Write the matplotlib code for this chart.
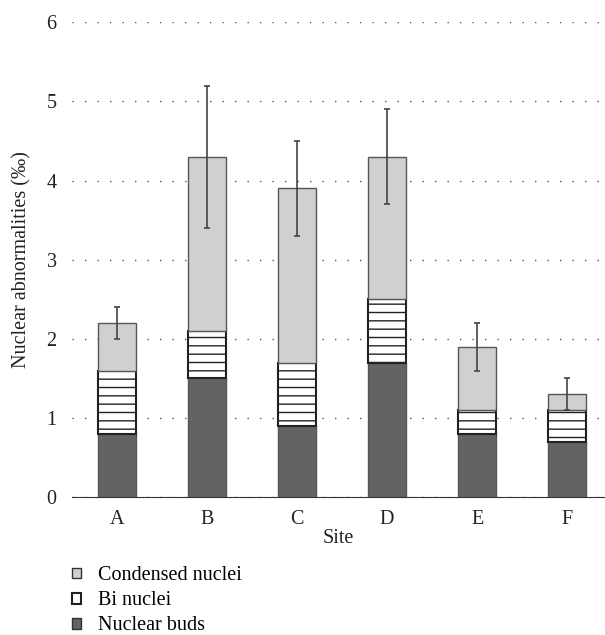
import matplotlib.pyplot as plt
from matplotlib.patches import Patch

sites = ["A", "B", "C", "D", "E", "F"]
buds = [0.8, 1.5, 0.9, 1.7, 0.8, 0.7]
bi = [0.8, 0.6, 0.8, 0.8, 0.3, 0.4]
condensed = [0.6, 2.2, 2.2, 1.8, 0.8, 0.2]
err = [0.2, 0.9, 0.6, 0.6, 0.3, 0.2]

plt.rcParams["font.family"] = ["Liberation Serif", "DejaVu Serif"]
plt.rcParams["hatch.linewidth"] = 1.0

fig = plt.figure(figsize=(6.05, 6.35), dpi=100)
ax = fig.add_axes([0.119, 0.217, 0.881, 0.748])

x = list(range(len(sites)))
w = 0.42
bottom_bi = buds
bottom_cond = [b + c for b, c in zip(buds, bi)]
totals = [b + c for b, c in zip(bottom_cond, condensed)]

ax.bar(x, buds, w, color="#636363", edgecolor="#555555", lw=1, zorder=3)
ax.bar(x, bi, w, bottom=bottom_bi, color="white", edgecolor="#222222",
       hatch="--", lw=1.5, zorder=3)
ax.bar(x, condensed, w, bottom=bottom_cond, color="#d0d0d0",
       edgecolor="#555555", lw=1, zorder=3)
ax.errorbar(x, totals, yerr=err, fmt="none", ecolor="#444444",
            elinewidth=1.2, capsize=2.5, capthick=1.2, zorder=4)

fs = 14.5
ax.set_ylim(0, 6)
ax.set_xlim(-0.5, 5.42)
ax.set_yticks(range(7))
ax.set_xticks(x)
ax.set_xticklabels(sites)
ax.yaxis.grid(True, linestyle=(0, (1, 8)), color="#555555", lw=1)
ax.set_axisbelow(True)
for s in ["top", "right", "left"]:
    ax.spines[s].set_visible(False)
ax.spines["bottom"].set_color("#333333")
ax.tick_params(axis="y", length=0, labelsize=fs, colors="#222222", pad=11)
ax.tick_params(axis="x", length=0, labelsize=fs, colors="#222222", pad=9)
ax.set_ylabel("Nuclear abnormalities (‰)", fontsize=fs, color="#222222",
              labelpad=11)
ax.set_xlabel("Site", fontsize=fs, color="#222222", labelpad=0)

handles = [
    Patch(facecolor="#d0d0d0", edgecolor="#333333", label="Condensed nuclei"),
    Patch(facecolor="white", edgecolor="#222222", lw=1.5, label="Bi nuclei"),
    Patch(facecolor="#636363", edgecolor="#333333", label="Nuclear buds"),
]
fig.legend(handles=handles, loc="upper left", bbox_to_anchor=(0.105, 0.121),
           frameon=False, fontsize=fs, handlelength=0.45, handleheight=0.45,
           handletextpad=0.85, labelspacing=0.3, borderaxespad=0)

fig.savefig("out.png", dpi=100)
